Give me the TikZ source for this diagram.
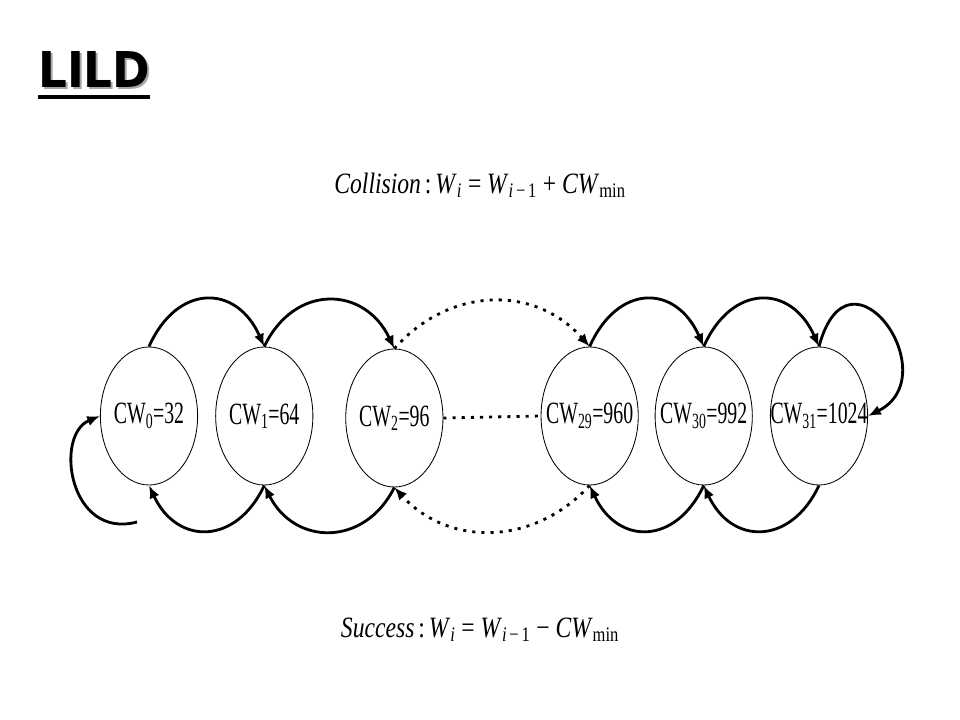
\documentclass[tikz,border=0pt]{standalone}
\usepackage{fontspec}
\setmainfont{Liberation Serif}
\newfontfamily\titlefont{DejaVu Sans}
\usetikzlibrary{shapes,arrows.meta,positioning,calc}

\newcommand{\cwlabel}[2]{\makebox[0pt]{\scalebox{0.64}[1]{CW\textsubscript{#1}=#2}}}
\newcommand{\eqline}[1]{\scalebox{0.8}[1]{#1}}

\begin{document}
\begin{tikzpicture}[x=0.025cm, y=-0.025cm,
    state/.style={draw, ellipse, line width=0.6pt, minimum width=2.43cm, minimum height=3.45cm, inner sep=0pt, font=\fontsize{22}{25}\selectfont},
    hop/.style={line width=2pt, -{Latex[length=3.2mm,width=2.6mm]}},
    dots/.style={line width=2pt, dash pattern=on 2.2pt off 4.3pt},
    eqn/.style={font=\fontsize{21}{24}\selectfont, inner sep=0pt}
]
\useasboundingbox (0,0) rectangle (960,720);

% title
\node[anchor=south west, inner sep=0pt, text=black!35] (shadow) at (40,90) {\resizebox{2.8cm}{0.9cm}{\titlefont\bfseries LILD}};
\node[anchor=south west, inner sep=0pt] (title) at (38,88) {\resizebox{2.8cm}{0.9cm}{\titlefont\bfseries LILD}};
\draw[line width=2.4pt] (title.south west) ++(0,9) -- ++(112,0);

% rules
\node[eqn] (collision) at (480,185) {\eqline{\textit{Collision}\,:\,\textit{W}\textsubscript{\textit{i}} = \textit{W}\textsubscript{\textit{i}\,−\,1} + \textit{CW}\textsubscript{min}}};
\node[eqn] (success) at (480,630) {\eqline{\textit{Success}\,:\,\textit{W}\textsubscript{\textit{i}} = \textit{W}\textsubscript{\textit{i}\,−\,1} − \textit{CW}\textsubscript{min}}};

% states
\node[state] (cw0) at (149,416) {\cwlabel{0}{32}};
\node[state, right=0.43cm of cw0] (cw1) {\cwlabel{1}{64}};
\node[state, right=0.8cm of cw1, yshift=-0.05cm] (cw2) {\cwlabel{2}{96}};
\node[state, right=2.43cm of cw2, yshift=0.05cm] (cw29) {\cwlabel{29}{960}};
\node[state, right=0.4cm of cw29] (cw30) {\cwlabel{30}{992}};
\node[state, right=0.43cm of cw30] (cw31) {\cwlabel{31}{1024}};

% collision: step up
\draw[hop] (cw0.north) .. controls +(28,-63) and +(-28,-63) .. (cw1.north);
\draw[hop] (cw1.north) .. controls +(30,-63) and +(-30,-63) .. (cw2.north);
\draw[dots, -{Latex[length=3.2mm,width=2.6mm]}] (cw2.north) .. controls +(55,-62) and +(-55,-62) .. (cw29.north);
\draw[hop] (cw29.north) .. controls +(28,-63) and +(-28,-63) .. (cw30.north);
\draw[hop] (cw30.north) .. controls +(28,-63) and +(-28,-63) .. (cw31.north);
\draw[hop] (cw31.north) .. controls +(30,-112) and +(80,-40) .. (cw31.east);

% success: step down
\coordinate (loop0) at (137,522);
\draw[hop] (loop0) .. controls +(-68,18) and +(-46,19) .. (cw0.west);
\draw[hop] (cw1.south) .. controls +(-28,60) and +(28,60) .. (cw0.south);
\draw[hop] (cw2.south) .. controls +(-30,60) and +(30,60) .. (cw1.south);
\draw[dots, -{Latex[length=3.2mm,width=2.6mm]}] (cw29.south) .. controls +(-55,60) and +(55,60) .. (cw2.south);
\draw[hop] (cw30.south) .. controls +(-28,60) and +(28,60) .. (cw29.south);
\draw[hop] (cw31.south) .. controls +(-28,60) and +(28,60) .. (cw30.south);

% no change
\draw[dots] (cw2.east) -- (cw29.west);
\end{tikzpicture}
\end{document}
